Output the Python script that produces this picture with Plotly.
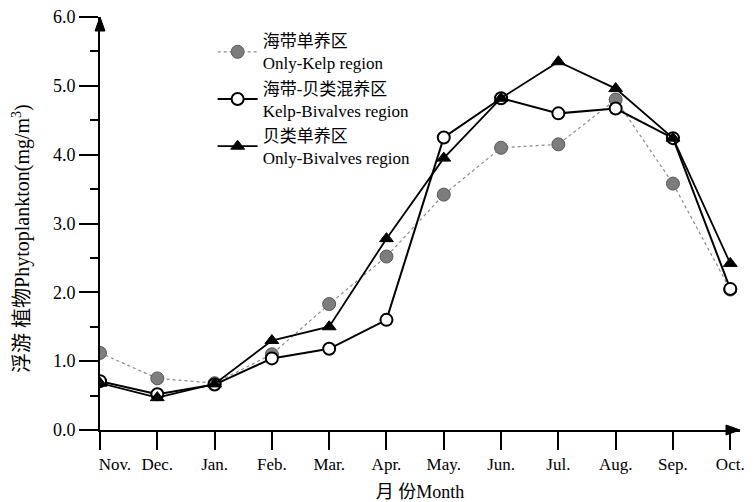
import plotly.graph_objects as go

months = ["Nov.", "Dec.", "Jan.", "Feb.", "Mar.", "Apr.", "May.", "Jun.", "Jul.", "Aug.", "Sep.", "Oct."]
only_kelp = [1.12, 0.75, 0.68, 1.1, 1.83, 2.52, 3.42, 4.1, 4.15, 4.8, 3.58, 2.04]
kelp_bivalves = [0.71, 0.52, 0.66, 1.04, 1.18, 1.6, 4.25, 4.82, 4.6, 4.67, 4.24, 2.05]
only_bivalves = [0.68, 0.47, 0.67, 1.3, 1.5, 2.78, 3.95, 4.82, 5.35, 4.96, 4.24, 2.42]
names = ["海带单养区<br>Only-Kelp region",
         "海带-贝类混养区<br>Kelp-Bivalves region",
         "贝类单养区<br>Only-Bivalves region"]
ytick_vals = [0, 1, 2, 3, 4, 5, 6]
y_title = "浮游 植物Phytoplankton(mg/m<sup>3</sup>)"

x = list(range(len(months)))
serif = "Liberation Serif, 'Noto Sans CJK SC', serif"

fig = go.Figure()
fig.add_trace(go.Scatter(
    x=x, y=only_kelp, name=names[0], mode="lines+markers",
    line=dict(color="#8a8a8a", width=1.2, dash="dot"),
    marker=dict(symbol="circle", size=13, color="#7d7d7d",
                line=dict(color="#5a5a5a", width=1))))
fig.add_trace(go.Scatter(
    x=x, y=kelp_bivalves, name=names[1], mode="lines+markers",
    line=dict(color="black", width=2),
    marker=dict(symbol="circle", size=12, color="white",
                line=dict(color="black", width=2))))
fig.add_trace(go.Scatter(
    x=x, y=only_bivalves, name=names[2], mode="lines+markers",
    line=dict(color="black", width=1.8),
    marker=dict(symbol="triangle-up", size=12, color="black",
                line=dict(color="black", width=1))))

ticktext = ["\u00a0" * 7 + months[0]] + months[1:]

fig.update_layout(
    width=755, height=502,
    paper_bgcolor="white", plot_bgcolor="white",
    margin=dict(l=100, r=15, t=17, b=72),
    font=dict(family=serif, color="black", size=16),
    showlegend=True,
    legend=dict(x=0.176, y=0.985, xanchor="left", yanchor="top",
                bgcolor="rgba(0,0,0,0)", font=dict(size=17, family=serif),
                tracegroupgap=0, itemwidth=40),
    xaxis=dict(range=[0, 11.17], tickvals=x, ticktext=ticktext, automargin=False,
               showline=True, linecolor="black", linewidth=2,
               ticks="outside", ticklen=18, tickwidth=1.5, tickcolor="black",
               showgrid=False, zeroline=False,
               tickfont=dict(size=17, family=serif),
               title=dict(text="月 份Month", font=dict(size=18, family=serif), standoff=12)),
    yaxis=dict(range=[0, 6], tickvals=ytick_vals, tickformat=".1f", automargin=False,
               showline=True, linecolor="black", linewidth=2,
               ticks="outside", ticklen=19, tickwidth=1.5, tickcolor="black",
               minor=dict(dtick=0.5, ticks="outside", ticklen=8, tickwidth=1.5, tickcolor="black"),
               showgrid=False, zeroline=False,
               tickfont=dict(size=18, family=serif)),
)

fig.add_annotation(xref="paper", yref="paper", x=-0.122, y=0.465, text=y_title,
                   textangle=-90, showarrow=False, xanchor="center", yanchor="middle",
                   font=dict(size=20, family=serif, color="black"))

# axis arrowheads (decoration, pixel-sized, anchored at axis ends)
fig.add_shape(type="path", xref="paper", yref="paper", xsizemode="pixel", ysizemode="pixel",
              xanchor=1.0, yanchor=0, path="M 0 0 L -14 5 L -14 -5 Z",
              fillcolor="black", line=dict(color="black", width=1))
fig.add_shape(type="path", xref="paper", yref="paper", xsizemode="pixel", ysizemode="pixel",
              xanchor=0, yanchor=1.0, path="M 0 0 L -5 -14 L 5 -14 Z",
              fillcolor="black", line=dict(color="black", width=1))

fig.write_html("out.html", config={"displayModeBar": False},
               post_script="document.body.style.margin='0px';")
